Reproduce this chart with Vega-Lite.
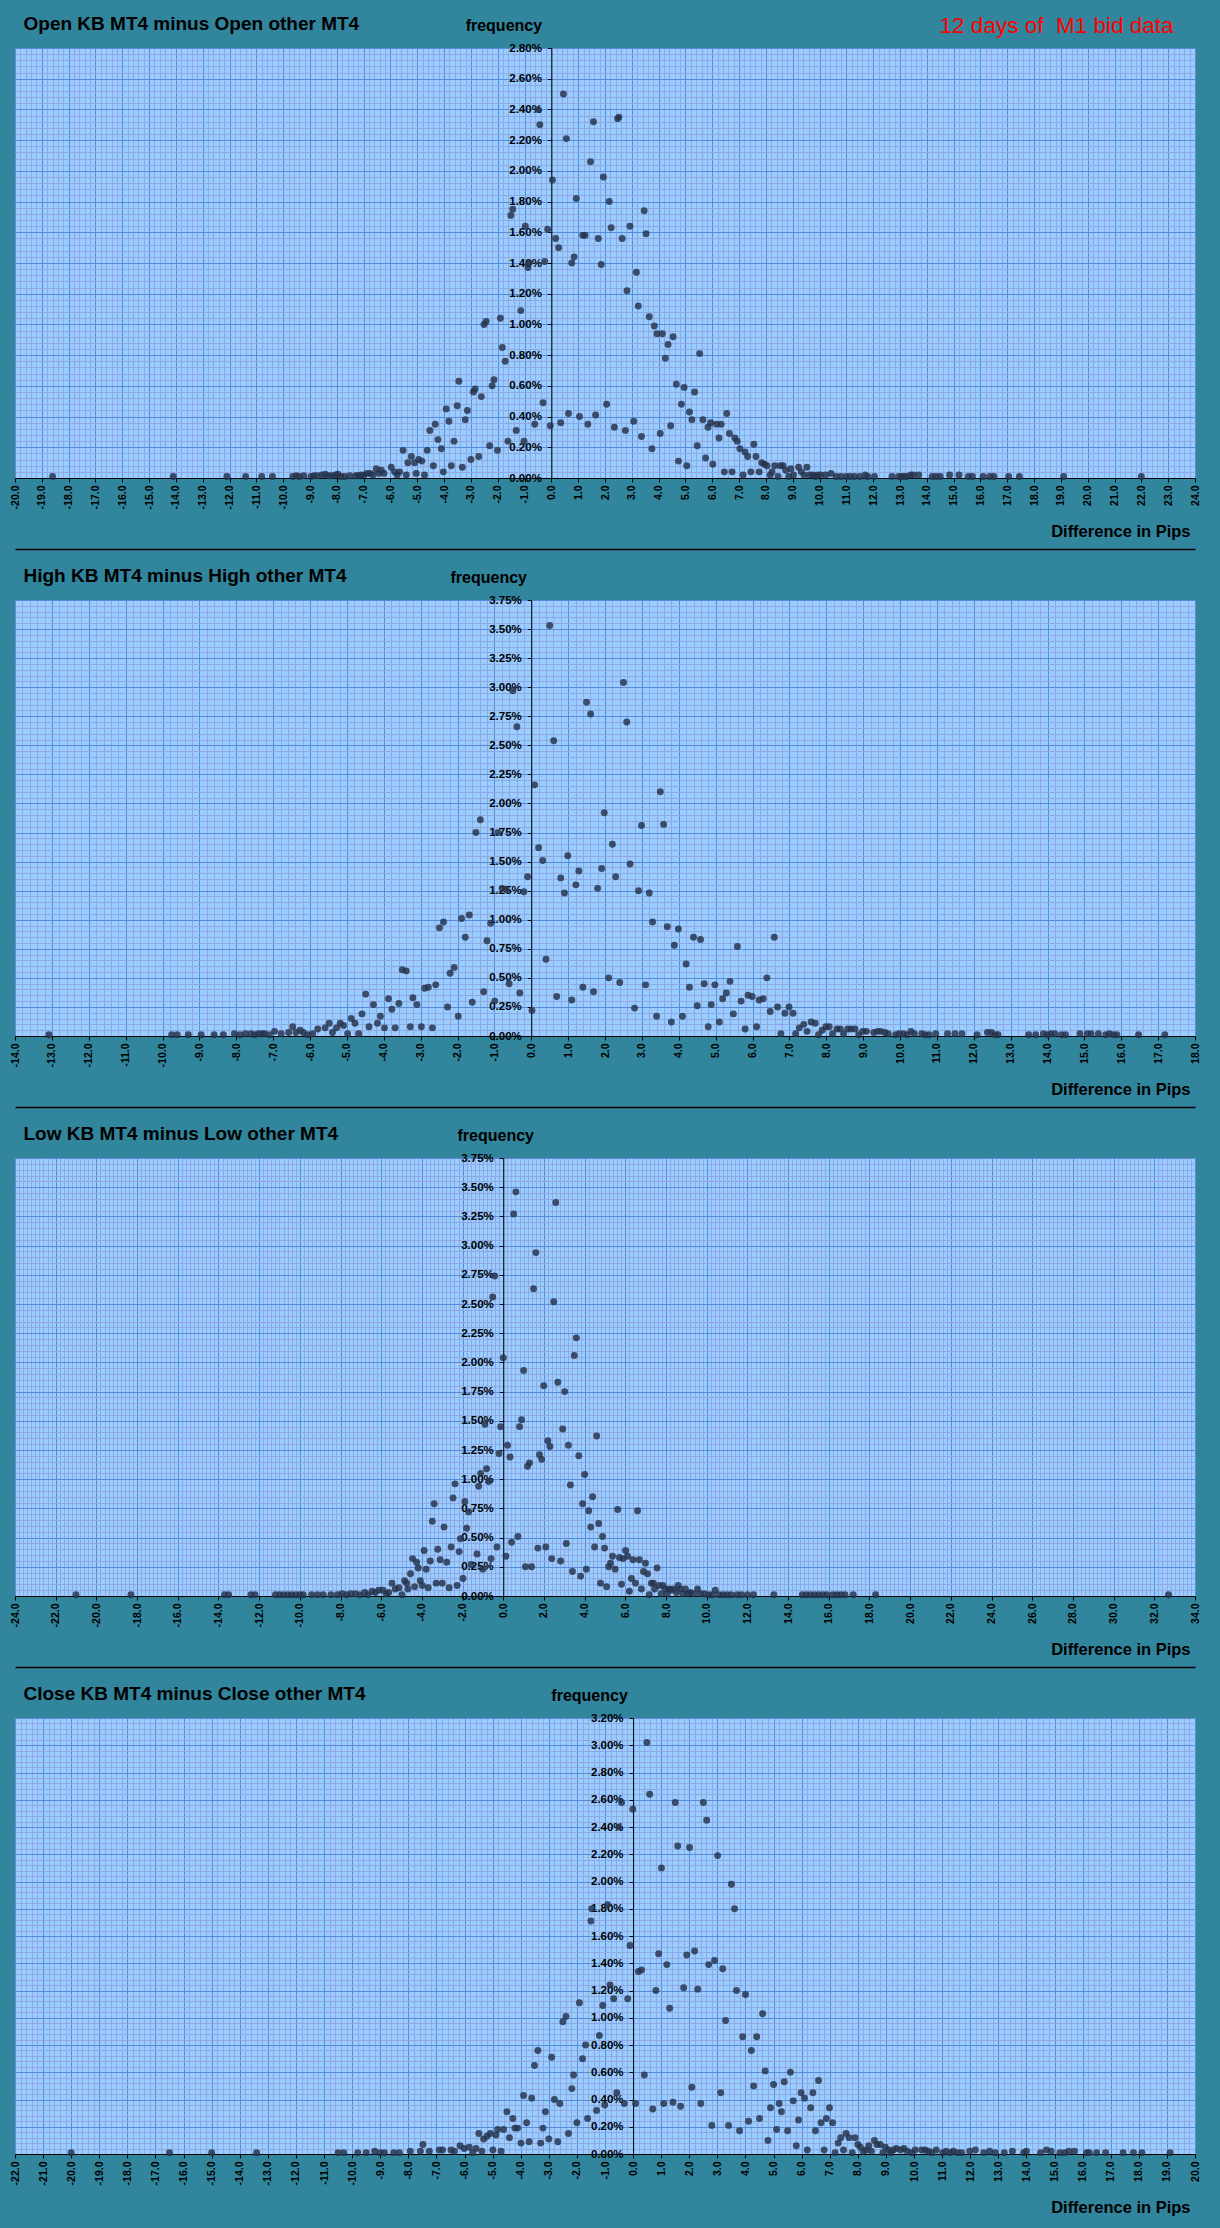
{
  "$schema": "https://vega.github.io/schema/vega-lite/v6.json",
  "background": "#31859C",
  "padding": {"left": 9, "top": 13, "right": 22, "bottom": 13},
  "autosize": {"type": "pad"},
  "config": {
    "view": {"fill": "#99CCFF", "stroke": "#7F8FA8", "strokeWidth": 1},
    "font": "Liberation Sans",
    "axis": {"labelFont": "Liberation Sans", "titleFont": "Liberation Sans", "labelColor": "#000000", "titleColor": "#000000"},
    "circle": {"size": 48, "color": "#24324A", "opacity": 0.82}
  },
  "datasets": {
    "open": [
      {"d":-18.6,"f":0.01},{"d":-14.1,"f":0.01},{"d":-12.1,"f":0.01},{"d":-11.4,"f":0.01},{"d":-10.8,"f":0.01},{"d":-10.4,"f":0.01},
      {"d":-9.64,"f":0.01},{"d":-9.51,"f":0.015},{"d":-9.4,"f":0.01},{"d":-9.23,"f":0.015},{"d":-8.96,"f":0.01},{"d":-8.85,"f":0.015},{"d":-8.73,"f":0.015},{"d":-8.55,"f":0.02},{"d":-8.43,"f":0.025},{"d":-8.3,"f":0.015},{"d":-8.18,"f":0.015},{"d":-8.05,"f":0.02},{"d":-7.96,"f":0.025},{"d":-7.85,"f":0.01},{"d":-7.71,"f":0.01},{"d":-7.52,"f":0.015},{"d":-7.3,"f":0.015},{"d":-7.21,"f":0.015},{"d":-7.1,"f":0.02},{"d":-6.99,"f":0.02},{"d":-6.87,"f":0.03},{"d":-6.75,"f":0.03},{"d":-6.65,"f":0.02},{"d":-6.53,"f":0.06},{"d":-6.43,"f":0.03},{"d":-6.34,"f":0.05},{"d":-6.24,"f":0.03},{"d":-5.97,"f":0.07},{"d":-5.85,"f":0.04},{"d":-5.75,"f":0.02},{"d":-5.66,"f":0.04},{"d":-5.53,"f":0.18},{"d":-5.41,"f":0.02},{"d":-5.35,"f":0.1},{"d":-5.22,"f":0.14},{"d":-5.1,"f":0.1},{"d":-5.04,"f":0.03},{"d":-4.95,"f":0.12},{"d":-4.83,"f":0.11},{"d":-4.73,"f":0.02},{"d":-4.63,"f":0.18},{"d":-4.53,"f":0.31},{"d":-4.4,"f":0.08},{"d":-4.33,"f":0.35},{"d":-4.23,"f":0.25},{"d":-4.1,"f":0.19},{"d":-4.03,"f":0.04},{"d":-3.92,"f":0.45},{"d":-3.82,"f":0.37},{"d":-3.73,"f":0.08},{"d":-3.63,"f":0.24},{"d":-3.51,"f":0.47},{"d":-3.45,"f":0.63},{"d":-3.32,"f":0.07},{"d":-3.21,"f":0.38},{"d":-3.13,"f":0.44},{"d":-3.0,"f":0.12},{"d":-2.91,"f":0.56},{"d":-2.84,"f":0.58},{"d":-2.71,"f":0.14},{"d":-2.61,"f":0.53},{"d":-2.51,"f":1.0},{"d":-2.43,"f":1.02},{"d":-2.3,"f":0.21},{"d":-2.21,"f":0.6},{"d":-2.14,"f":0.64},{"d":-2.01,"f":0.18},{"d":-1.9,"f":1.04},{"d":-1.83,"f":0.85},{"d":-1.72,"f":0.76},{"d":-1.62,"f":0.24},{"d":-1.51,"f":1.71},{"d":-1.44,"f":1.75},{"d":-1.31,"f":0.31},{"d":-1.14,"f":1.09},{"d":-1.02,"f":0.24},{"d":-0.97,"f":1.64},{"d":-0.87,"f":1.37},{"d":-0.83,"f":1.4},{"d":-0.62,"f":0.35},{"d":-0.5,"f":2.4},{"d":-0.43,"f":2.3},{"d":-0.31,"f":0.49},{"d":-0.25,"f":1.41},{"d":-0.14,"f":1.62},{"d":-0.04,"f":0.34},{"d":0.04,"f":1.94},{"d":0.16,"f":1.56},{"d":0.27,"f":1.5},{"d":0.35,"f":0.36},{"d":0.45,"f":2.5},{"d":0.56,"f":2.21},{"d":0.64,"f":0.42},{"d":0.76,"f":1.4},{"d":0.85,"f":1.44},{"d":0.93,"f":1.82},{"d":1.05,"f":0.4},{"d":1.17,"f":1.58},{"d":1.26,"f":1.58},{"d":1.36,"f":0.35},{"d":1.46,"f":2.06},{"d":1.57,"f":2.32},{"d":1.65,"f":0.41},{"d":1.75,"f":1.56},{"d":1.86,"f":1.39},{"d":1.94,"f":1.96},{"d":2.06,"f":0.48},{"d":2.16,"f":1.8},{"d":2.23,"f":1.63},{"d":2.35,"f":0.33},{"d":2.47,"f":2.34},{"d":2.52,"f":2.35},{"d":2.64,"f":1.56},{"d":2.76,"f":0.31},{"d":2.82,"f":1.22},{"d":2.93,"f":1.64},{"d":3.07,"f":0.37},{"d":3.17,"f":1.34},{"d":3.24,"f":1.12},{"d":3.36,"f":0.27},{"d":3.46,"f":1.74},{"d":3.53,"f":1.59},{"d":3.65,"f":1.05},{"d":3.75,"f":0.19},{"d":3.84,"f":0.99},{"d":3.94,"f":0.94},{"d":4.06,"f":0.29},{"d":4.14,"f":0.94},{"d":4.25,"f":0.78},{"d":4.35,"f":0.87},{"d":4.45,"f":0.34},{"d":4.54,"f":0.92},{"d":4.66,"f":0.61},{"d":4.74,"f":0.11},{"d":4.85,"f":0.48},{"d":4.95,"f":0.59},{"d":5.05,"f":0.08},{"d":5.15,"f":0.43},{"d":5.24,"f":0.38},{"d":5.34,"f":0.56},{"d":5.44,"f":0.21},{"d":5.53,"f":0.81},{"d":5.65,"f":0.38},{"d":5.75,"f":0.13},{"d":5.84,"f":0.33},{"d":5.94,"f":0.36},{"d":6.02,"f":0.09},{"d":6.16,"f":0.35},{"d":6.25,"f":0.26},{"d":6.33,"f":0.35},{"d":6.45,"f":0.04},{"d":6.54,"f":0.42},{"d":6.64,"f":0.29},{"d":6.74,"f":0.04},{"d":6.84,"f":0.26},{"d":6.93,"f":0.24},{"d":7.03,"f":0.19},{"d":7.15,"f":0.02},{"d":7.22,"f":0.17},{"d":7.32,"f":0.14},{"d":7.44,"f":0.04},{"d":7.55,"f":0.22},{"d":7.63,"f":0.14},{"d":7.75,"f":0.04},{"d":7.84,"f":0.1},{"d":7.94,"f":0.09},{"d":8.04,"f":0.08},{"d":8.16,"f":0.02},{"d":8.23,"f":0.04},{"d":8.33,"f":0.08},{"d":8.45,"f":0.01},{"d":8.54,"f":0.08},{"d":8.64,"f":0.08},{"d":8.74,"f":0.05},{"d":8.85,"f":0.01},{"d":8.93,"f":0.06},{"d":9.03,"f":0.02},{"d":9.22,"f":0.07},{"d":9.32,"f":0.04},{"d":9.42,"f":0.02},{"d":9.53,"f":0.07},{"d":9.63,"f":0.02},{"d":9.75,"f":0.02},{"d":9.85,"f":0.01},{"d":9.94,"f":0.02},{"d":10.04,"f":0.02},{"d":10.23,"f":0.02},{"d":10.43,"f":0.03},{"d":10.62,"f":0.01},{"d":10.8,"f":0.01},{"d":11.0,"f":0.01},{"d":11.15,"f":0.01},{"d":11.3,"f":0.01},{"d":11.5,"f":0.01},{"d":11.7,"f":0.02},{"d":11.8,"f":0.01},{"d":12.05,"f":0.01},{"d":12.7,"f":0.01},{"d":12.95,"f":0.01},{"d":13.05,"f":0.01},{"d":13.15,"f":0.01},{"d":13.25,"f":0.01},{"d":13.4,"f":0.02},{"d":13.5,"f":0.02},{"d":13.7,"f":0.02},{"d":14.2,"f":0.01},{"d":14.35,"f":0.01},{"d":14.5,"f":0.01},{"d":14.85,"f":0.02},{"d":15.2,"f":0.02},{"d":15.55,"f":0.01},{"d":15.7,"f":0.01},{"d":16.1,"f":0.01},{"d":16.35,"f":0.01},{"d":16.5,"f":0.01},{"d":17.05,"f":0.01},{"d":17.45,"f":0.01},{"d":19.1,"f":0.01},{"d":22.0,"f":0.01}
    ],
    "high": [
      {"d":-13.08,"f":0.01},{"d":-9.75,"f":0.01},{"d":-9.6,"f":0.01},{"d":-9.3,"f":0.01},{"d":-8.95,"f":0.01},{"d":-8.6,"f":0.01},{"d":-8.35,"f":0.01},{"d":-8.05,"f":0.02},{"d":-7.9,"f":0.01},{"d":-7.75,"f":0.02},{"d":-7.6,"f":0.02},{"d":-7.5,"f":0.01},{"d":-7.4,"f":0.02},{"d":-7.3,"f":0.02},
      {"d":-7.23,"f":0.02},{"d":-7.1,"f":0.01},{"d":-6.96,"f":0.04},{"d":-6.78,"f":0.02},{"d":-6.58,"f":0.03},{"d":-6.47,"f":0.08},{"d":-6.38,"f":0.03},{"d":-6.27,"f":0.05},{"d":-6.18,"f":0.03},{"d":-6.06,"f":0.01},{"d":-5.93,"f":0.02},{"d":-5.79,"f":0.06},{"d":-5.59,"f":0.07},{"d":-5.48,"f":0.11},{"d":-5.39,"f":0.03},{"d":-5.28,"f":0.07},{"d":-5.18,"f":0.11},{"d":-5.09,"f":0.09},{"d":-4.98,"f":0.02},{"d":-4.88,"f":0.15},{"d":-4.78,"f":0.11},{"d":-4.68,"f":0.02},{"d":-4.59,"f":0.19},{"d":-4.49,"f":0.36},{"d":-4.4,"f":0.08},{"d":-4.28,"f":0.27},{"d":-4.17,"f":0.11},{"d":-4.09,"f":0.17},{"d":-3.98,"f":0.07},{"d":-3.87,"f":0.32},{"d":-3.78,"f":0.23},{"d":-3.69,"f":0.07},{"d":-3.59,"f":0.28},{"d":-3.5,"f":0.57},{"d":-3.39,"f":0.56},{"d":-3.28,"f":0.08},{"d":-3.21,"f":0.33},{"d":-3.1,"f":0.27},{"d":-2.98,"f":0.08},{"d":-2.89,"f":0.41},{"d":-2.79,"f":0.42},{"d":-2.68,"f":0.07},{"d":-2.59,"f":0.44},{"d":-2.49,"f":0.93},{"d":-2.38,"f":0.98},{"d":-2.27,"f":0.25},{"d":-2.2,"f":0.54},{"d":-2.09,"f":0.59},{"d":-1.98,"f":0.17},{"d":-1.89,"f":1.01},{"d":-1.79,"f":0.85},{"d":-1.68,"f":1.04},{"d":-1.6,"f":0.29},{"d":-1.5,"f":1.75},{"d":-1.38,"f":1.86},{"d":-1.29,"f":0.38},{"d":-1.2,"f":0.82},{"d":-1.1,"f":0.97},{"d":-0.99,"f":0.3},{"d":-0.9,"f":1.75},{"d":-0.79,"f":1.27},{"d":-0.68,"f":1.26},{"d":-0.6,"f":0.45},{"d":-0.5,"f":2.97},{"d":-0.39,"f":2.66},{"d":-0.31,"f":0.37},{"d":-0.2,"f":1.24},{"d":-0.1,"f":1.37},{"d":0.02,"f":0.22},{"d":0.09,"f":2.16},{"d":0.2,"f":1.62},{"d":0.31,"f":1.51},{"d":0.4,"f":0.66},{"d":0.5,"f":3.53},{"d":0.61,"f":2.54},{"d":0.69,"f":0.34},{"d":0.8,"f":1.36},{"d":0.9,"f":1.23},{"d":0.99,"f":1.55},{"d":1.1,"f":0.31},{"d":1.21,"f":1.3},{"d":1.29,"f":1.42},{"d":1.4,"f":0.42},{"d":1.5,"f":2.87},{"d":1.61,"f":2.77},{"d":1.69,"f":0.38},{"d":1.8,"f":1.27},{"d":1.91,"f":1.44},{"d":1.98,"f":1.92},{"d":2.1,"f":0.5},{"d":2.2,"f":1.65},{"d":2.29,"f":1.37},{"d":2.4,"f":0.46},{"d":2.5,"f":3.04},{"d":2.59,"f":2.7},{"d":2.68,"f":1.48},{"d":2.8,"f":0.24},{"d":2.91,"f":1.25},{"d":2.99,"f":1.81},{"d":3.1,"f":0.44},{"d":3.2,"f":1.23},{"d":3.29,"f":0.98},{"d":3.4,"f":0.17},{"d":3.5,"f":2.1},{"d":3.59,"f":1.82},{"d":3.69,"f":0.94},{"d":3.8,"f":0.12},{"d":3.88,"f":0.78},{"d":3.99,"f":0.92},{"d":4.1,"f":0.17},{"d":4.2,"f":0.62},{"d":4.29,"f":0.42},{"d":4.4,"f":0.85},{"d":4.5,"f":0.26},{"d":4.59,"f":0.83},{"d":4.69,"f":0.45},{"d":4.8,"f":0.08},{"d":4.88,"f":0.27},{"d":4.98,"f":0.44},{"d":5.1,"f":0.12},{"d":5.19,"f":0.32},{"d":5.29,"f":0.37},{"d":5.39,"f":0.47},{"d":5.48,"f":0.19},{"d":5.59,"f":0.77},{"d":5.69,"f":0.3},{"d":5.8,"f":0.06},{"d":5.88,"f":0.35},{"d":5.99,"f":0.34},{"d":6.11,"f":0.08},{"d":6.18,"f":0.31},{"d":6.29,"f":0.32},{"d":6.39,"f":0.5},{"d":6.48,"f":0.21},{"d":6.59,"f":0.85},{"d":6.68,"f":0.25},{"d":6.77,"f":0.02},
      {"d":6.88,"f":0.195},{"d":6.99,"f":0.25},{"d":7.1,"f":0.195},{"d":7.17,"f":0.02},{"d":7.27,"f":0.07},{"d":7.39,"f":0.1},{"d":7.48,"f":0.04},{"d":7.59,"f":0.12},{"d":7.7,"f":0.11},{"d":7.79,"f":0.01},{"d":7.89,"f":0.05},{"d":7.99,"f":0.08},{"d":8.08,"f":0.08},{"d":8.17,"f":0.02},{"d":8.29,"f":0.06},{"d":8.38,"f":0.06},{"d":8.47,"f":0.02},{"d":8.58,"f":0.06},{"d":8.67,"f":0.06},{"d":8.78,"f":0.06},{"d":8.88,"f":0.01},{"d":8.99,"f":0.04},{"d":9.09,"f":0.04},{"d":9.29,"f":0.03},{"d":9.39,"f":0.04},{"d":9.48,"f":0.04},{"d":9.59,"f":0.03},{"d":9.68,"f":0.02},{"d":9.88,"f":0.01},{"d":9.98,"f":0.02},{"d":10.09,"f":0.02},{"d":10.19,"f":0.01},{"d":10.3,"f":0.04},{"d":10.39,"f":0.02},{"d":10.59,"f":0.02},{"d":10.68,"f":0.01},{"d":10.79,"f":0.01},{"d":10.97,"f":0.02},{"d":11.29,"f":0.02},{"d":11.49,"f":0.02},{"d":11.68,"f":0.02},{"d":12.09,"f":0.01},{"d":12.37,"f":0.03},{"d":12.48,"f":0.03},{"d":12.58,"f":0.01},{"d":12.66,"f":0.01},{"d":13.49,"f":0.01},{"d":13.68,"f":0.01},{"d":13.89,"f":0.02},{"d":14.0,"f":0.01},{"d":14.09,"f":0.02},{"d":14.2,"f":0.02},{"d":14.38,"f":0.01},{"d":14.49,"f":0.01},{"d":14.88,"f":0.02},{"d":15.08,"f":0.02},{"d":15.18,"f":0.02},{"d":15.38,"f":0.02},{"d":15.58,"f":0.01},{"d":15.68,"f":0.02},{"d":15.79,"f":0.01},{"d":15.88,"f":0.01},{"d":16.47,"f":0.01},{"d":17.18,"f":0.01}
    ],
    "low": [
      {"d":-21.0,"f":0.01},{"d":-18.3,"f":0.01},{"d":-13.7,"f":0.01},{"d":-13.5,"f":0.01},{"d":-12.4,"f":0.01},{"d":-12.2,"f":0.01},{"d":-11.2,"f":0.01},{"d":-11.0,"f":0.01},{"d":-10.8,"f":0.01},{"d":-10.6,"f":0.01},{"d":-10.4,"f":0.01},{"d":-10.2,"f":0.01},{"d":-10.0,"f":0.01},
      {"d":-9.83,"f":0.01},{"d":-9.42,"f":0.01},{"d":-9.13,"f":0.01},{"d":-8.85,"f":0.01},{"d":-8.47,"f":0.01},{"d":-8.15,"f":0.01},{"d":-7.92,"f":0.02},{"d":-7.7,"f":0.01},{"d":-7.49,"f":0.02},{"d":-7.27,"f":0.02},{"d":-7.05,"f":0.01},{"d":-6.81,"f":0.03},{"d":-6.64,"f":0.01},{"d":-6.45,"f":0.04},{"d":-6.29,"f":0.03},{"d":-6.12,"f":0.05},{"d":-5.91,"f":0.05},{"d":-5.75,"f":0.02},{"d":-5.63,"f":0.03},{"d":-5.47,"f":0.11},{"d":-5.31,"f":0.06},{"d":-5.13,"f":0.07},{"d":-4.98,"f":0.01},{"d":-4.85,"f":0.13},{"d":-4.75,"f":0.11},{"d":-4.69,"f":0.06},{"d":-4.56,"f":0.19},{"d":-4.46,"f":0.32},{"d":-4.36,"f":0.08},{"d":-4.26,"f":0.29},{"d":-4.18,"f":0.24},{"d":-4.08,"f":0.13},{"d":-3.98,"f":0.09},{"d":-3.89,"f":0.39},{"d":-3.79,"f":0.23},{"d":-3.69,"f":0.07},{"d":-3.59,"f":0.3},{"d":-3.49,"f":0.64},{"d":-3.4,"f":0.79},{"d":-3.3,"f":0.11},{"d":-3.22,"f":0.4},{"d":-3.1,"f":0.31},{"d":-3.0,"f":0.11},{"d":-2.91,"f":0.59},{"d":-2.78,"f":0.29},{"d":-2.66,"f":0.07},{"d":-2.56,"f":0.42},{"d":-2.47,"f":0.84},{"d":-2.37,"f":0.96},{"d":-2.27,"f":0.09},{"d":-2.17,"f":0.38},{"d":-2.11,"f":0.49},{"d":-1.98,"f":0.15},{"d":-1.89,"f":0.81},{"d":-1.8,"f":0.58},{"d":-1.7,"f":0.72},{"d":-1.58,"f":0.27},{"d":-1.29,"f":0.36},{"d":-1.21,"f":0.94},{"d":-1.11,"f":1.05},{"d":-1.01,"f":0.23},{"d":-0.9,"f":1.47},{"d":-0.82,"f":1.09},{"d":-0.72,"f":0.98},{"d":-0.6,"f":0.32},{"d":-0.52,"f":2.56},{"d":-0.42,"f":2.74},{"d":-0.31,"f":0.42},{"d":-0.21,"f":1.22},{"d":-0.13,"f":1.45},{"d":0.0,"f":2.04},{"d":0.13,"f":0.34},{"d":0.21,"f":1.29},{"d":0.33,"f":1.19},{"d":0.41,"f":0.46},{"d":0.51,"f":3.27},{"d":0.62,"f":3.46},{"d":0.72,"f":0.51},{"d":0.8,"f":1.45},{"d":0.9,"f":1.51},{"d":1.0,"f":1.93},{"d":1.09,"f":0.25},{"d":1.19,"f":1.11},{"d":1.29,"f":1.14},{"d":1.39,"f":0.25},{"d":1.49,"f":2.63},{"d":1.6,"f":2.94},{"d":1.7,"f":0.41},{"d":1.78,"f":1.21},{"d":1.89,"f":1.17},{"d":1.99,"f":1.8},{"d":2.09,"f":0.42},{"d":2.19,"f":1.33},{"d":2.29,"f":1.28},{"d":2.38,"f":0.32},{"d":2.48,"f":2.52},{"d":2.58,"f":3.37},{"d":2.68,"f":1.83},{"d":2.82,"f":0.3},{"d":2.92,"f":1.43},{"d":3.02,"f":1.75},{"d":3.1,"f":0.45},{"d":3.2,"f":1.29},{"d":3.3,"f":0.95},{"d":3.4,"f":0.21},{"d":3.49,"f":2.06},{"d":3.59,"f":2.21},{"d":3.71,"f":1.2},{"d":3.8,"f":0.17},{"d":3.9,"f":0.79},{"d":4.0,"f":1.04},{"d":4.08,"f":0.23},{"d":4.2,"f":0.73},{"d":4.3,"f":0.59},{"d":4.39,"f":0.85},{"d":4.49,"f":0.42},{"d":4.59,"f":1.37},{"d":4.69,"f":0.62},{"d":4.78,"f":0.11},{"d":4.88,"f":0.51},{"d":4.98,"f":0.41},{"d":5.08,"f":0.08},{"d":5.18,"f":0.25},{"d":5.27,"f":0.28},{"d":5.37,"f":0.34},{"d":5.5,"f":0.23},{"d":5.62,"f":0.74},{"d":5.71,"f":0.33},{"d":5.81,"f":0.1},{"d":5.89,"f":0.32},{"d":6.01,"f":0.39},{"d":6.11,"f":0.34},{"d":6.2,"f":0.04},{"d":6.3,"f":0.15},{"d":6.38,"f":0.31},{"d":6.5,"f":0.11},{"d":6.6,"f":0.73},{"d":6.69,"f":0.31},{"d":6.79,"f":0.06},{"d":6.89,"f":0.21},{"d":6.99,"f":0.28},{"d":7.09,"f":0.19},{"d":7.18,"f":0.01},{"d":7.28,"f":0.11},{"d":7.38,"f":0.11},{"d":7.44,"f":0.06},{"d":7.56,"f":0.24},{"d":7.66,"f":0.09},{"d":7.76,"f":0.02},{"d":7.85,"f":0.09},{"d":7.95,"f":0.06},{"d":8.05,"f":0.02},{"d":8.15,"f":0.06},{"d":8.24,"f":0.05},{"d":8.38,"f":0.06},{"d":8.51,"f":0.03},{"d":8.6,"f":0.09},{"d":8.7,"f":0.06},{"d":8.82,"f":0.02},{"d":8.95,"f":0.06},{"d":9.06,"f":0.02},{"d":9.19,"f":0.03},{"d":9.36,"f":0.02},{"d":9.55,"f":0.06},{"d":9.68,"f":0.02},{"d":9.88,"f":0.02},{"d":10.09,"f":0.01},{"d":10.27,"f":0.01},{"d":10.42,"f":0.05},
      {"d":10.6,"f":0.01},{"d":10.8,"f":0.01},{"d":11.0,"f":0.01},{"d":11.2,"f":0.01},{"d":11.5,"f":0.01},{"d":11.7,"f":0.01},{"d":12.0,"f":0.01},{"d":12.3,"f":0.01},{"d":13.3,"f":0.01},{"d":14.7,"f":0.01},{"d":14.9,"f":0.01},{"d":15.1,"f":0.01},{"d":15.3,"f":0.01},{"d":15.5,"f":0.01},{"d":15.7,"f":0.01},{"d":15.9,"f":0.01},{"d":16.2,"f":0.01},{"d":16.4,"f":0.01},{"d":16.6,"f":0.01},{"d":16.8,"f":0.01},{"d":17.2,"f":0.01},{"d":18.3,"f":0.01},{"d":32.7,"f":0.01}
    ],
    "close": [
      {"d":-20.0,"f":0.01},{"d":-16.5,"f":0.01},{"d":-15.0,"f":0.01},{"d":-13.4,"f":0.01},{"d":-10.5,"f":0.01},{"d":-10.3,"f":0.01},{"d":-9.8,"f":0.01},{"d":-9.5,"f":0.01},{"d":-9.2,"f":0.02},{"d":-9.0,"f":0.01},
      {"d":-8.85,"f":0.01},{"d":-8.52,"f":0.01},{"d":-8.32,"f":0.01},{"d":-7.93,"f":0.02},{"d":-7.57,"f":0.02},{"d":-7.48,"f":0.07},{"d":-7.25,"f":0.02},{"d":-6.9,"f":0.03},{"d":-6.78,"f":0.03},{"d":-6.48,"f":0.03},{"d":-6.36,"f":0.02},{"d":-6.16,"f":0.06},{"d":-6.01,"f":0.04},{"d":-5.83,"f":0.05},{"d":-5.71,"f":0.01},{"d":-5.59,"f":0.04},{"d":-5.49,"f":0.15},{"d":-5.38,"f":0.02},{"d":-5.32,"f":0.11},{"d":-5.2,"f":0.13},{"d":-5.08,"f":0.15},{"d":-4.99,"f":0.03},{"d":-4.88,"f":0.14},{"d":-4.82,"f":0.18},{"d":-4.7,"f":0.02},{"d":-4.61,"f":0.18},{"d":-4.49,"f":0.31},{"d":-4.4,"f":0.12},{"d":-4.28,"f":0.26},{"d":-4.21,"f":0.19},{"d":-4.11,"f":0.19},{"d":-3.99,"f":0.08},{"d":-3.9,"f":0.43},{"d":-3.79,"f":0.23},{"d":-3.7,"f":0.09},{"d":-3.61,"f":0.41},{"d":-3.51,"f":0.65},{"d":-3.39,"f":0.76},{"d":-3.29,"f":0.08},{"d":-3.21,"f":0.19},{"d":-3.12,"f":0.31},{"d":-3.0,"f":0.11},{"d":-2.9,"f":0.71},{"d":-2.8,"f":0.4},{"d":-2.68,"f":0.09},{"d":-2.61,"f":0.37},{"d":-2.5,"f":0.97},{"d":-2.39,"f":1.01},{"d":-2.3,"f":0.15},{"d":-2.18,"f":0.48},{"d":-2.12,"f":0.58},{"d":-2.0,"f":0.23},{"d":-1.91,"f":1.11},{"d":-1.8,"f":0.7},{"d":-1.69,"f":0.8},{"d":-1.62,"f":0.26},{"d":-1.5,"f":1.71},{"d":-1.47,"f":1.8},{"d":-1.3,"f":0.32},{"d":-1.2,"f":0.87},{"d":-1.08,"f":1.09},{"d":-1.01,"f":0.36},{"d":-0.91,"f":1.83},{"d":-0.82,"f":1.24},{"d":-0.69,"f":1.14},{"d":-0.58,"f":0.45},{"d":-0.51,"f":2.4},{"d":-0.41,"f":2.58},{"d":-0.31,"f":0.37},{"d":-0.19,"f":1.14},{"d":-0.11,"f":1.53},{"d":-0.01,"f":2.53},{"d":0.09,"f":0.37},{"d":0.19,"f":1.34},{"d":0.3,"f":1.35},{"d":0.4,"f":0.58},{"d":0.49,"f":3.02},{"d":0.59,"f":2.64},{"d":0.7,"f":0.33},{"d":0.81,"f":1.2},{"d":0.91,"f":1.47},{"d":1.01,"f":2.1},{"d":1.09,"f":0.37},{"d":1.2,"f":1.39},{"d":1.3,"f":1.07},{"d":1.42,"f":0.38},{"d":1.5,"f":2.58},{"d":1.59,"f":2.26},{"d":1.69,"f":0.35},{"d":1.8,"f":1.22},{"d":1.91,"f":1.46},{"d":2.01,"f":2.25},{"d":2.09,"f":0.49},{"d":2.19,"f":1.49},{"d":2.3,"f":1.21},{"d":2.41,"f":0.37},{"d":2.5,"f":2.58},{"d":2.62,"f":2.45},{"d":2.69,"f":1.39},{"d":2.8,"f":0.21},{"d":2.9,"f":1.42},{"d":3.01,"f":2.19},{"d":3.12,"f":0.45},{"d":3.19,"f":1.36},{"d":3.29,"f":0.98},{"d":3.4,"f":0.21},{"d":3.5,"f":1.98},{"d":3.61,"f":1.8},{"d":3.68,"f":1.2},{"d":3.79,"f":0.17},{"d":3.9,"f":0.86},{"d":4.0,"f":1.17},{"d":4.11,"f":0.24},{"d":4.21,"f":0.76},{"d":4.29,"f":0.5},{"d":4.4,"f":0.86},{"d":4.5,"f":0.26},{"d":4.61,"f":1.03},{"d":4.7,"f":0.61},{"d":4.8,"f":0.1},{"d":4.89,"f":0.34},{"d":5.0,"f":0.51},{"d":5.11,"f":0.18},{"d":5.2,"f":0.37},{"d":5.28,"f":0.31},{"d":5.38,"f":0.53},{"d":5.5,"f":0.17},{"d":5.6,"f":0.6},{"d":5.7,"f":0.39},{"d":5.81,"f":0.06},{"d":5.89,"f":0.25},{"d":5.98,"f":0.45},{"d":6.1,"f":0.41},{"d":6.2,"f":0.03},{"d":6.32,"f":0.34},{"d":6.4,"f":0.45},{"d":6.49,"f":0.17},{"d":6.6,"f":0.54},{"d":6.69,"f":0.23},{"d":6.8,"f":0.03},{"d":6.88,"f":0.26},{"d":6.99,"f":0.34},{"d":7.1,"f":0.23},{"d":7.19,"f":0.01},{"d":7.3,"f":0.08},{"d":7.39,"f":0.12},{"d":7.49,"f":0.03},{"d":7.58,"f":0.15},{"d":7.69,"f":0.12},{"d":7.8,"f":0.01},{"d":7.9,"f":0.12},{"d":8.0,"f":0.07},{"d":8.09,"f":0.05},{"d":8.19,"f":0.02},{"d":8.29,"f":0.03},{"d":8.39,"f":0.06},{"d":8.48,"f":0.02},{"d":8.59,"f":0.1},{"d":8.68,"f":0.07},{"d":8.8,"f":0.07},{"d":8.89,"f":0.01},{"d":8.98,"f":0.05},{"d":9.09,"f":0.03},{"d":9.18,"f":0.01},{"d":9.26,"f":0.03},{"d":9.37,"f":0.04},
      {"d":9.52,"f":0.03},{"d":9.64,"f":0.04},{"d":9.76,"f":0.02},{"d":9.92,"f":0.01},{"d":10.04,"f":0.03},{"d":10.27,"f":0.03},{"d":10.39,"f":0.03},{"d":10.51,"f":0.02},{"d":10.63,"f":0.01},{"d":10.79,"f":0.03},{"d":11.02,"f":0.01},{"d":11.14,"f":0.02},{"d":11.29,"f":0.01},{"d":11.4,"f":0.02},{"d":11.55,"f":0.01},{"d":11.69,"f":0.01},{"d":11.98,"f":0.02},{"d":12.18,"f":0.03},{"d":12.48,"f":0.01},{"d":12.69,"f":0.02},{"d":12.89,"f":0.01},{"d":13.21,"f":0.01},{"d":13.5,"f":0.02},{"d":13.9,"f":0.01},{"d":14.0,"f":0.02},{"d":14.5,"f":0.01},{"d":14.71,"f":0.03},{"d":14.88,"f":0.02},{"d":15.19,"f":0.01},{"d":15.36,"f":0.01},{"d":15.51,"f":0.02},{"d":15.71,"f":0.02},{"d":16.14,"f":0.01},{"d":16.24,"f":0.01},{"d":16.5,"f":0.01},{"d":16.82,"f":0.01},{"d":17.44,"f":0.01},{"d":17.81,"f":0.01},{"d":18.11,"f":0.01},{"d":19.11,"f":0.01}
    ]
  },
  "spacing": 122,
  "bounds": "flush",
  "vconcat": [
    {
      "width": 1180, "height": 430,
      "data": {"name": "open"},
      "layer": [
        {"mark": {"type": "point", "opacity": 0},
         "encoding": {
           "x": {"field": "d", "type": "quantitative", "scale": {"domain": [-20, 24], "nice": false, "zero": false},
                 "axis": {"orient": "top", "grid": true, "gridColor": "#90A8E2", "gridWidth": 1, "tickCount": 220, "labels": false, "ticks": false, "domain": false, "title": null}},
           "y": {"field": "f", "type": "quantitative", "scale": {"domain": [0, 2.8], "nice": false},
                 "axis": {"orient": "left", "grid": true, "gridColor": "#90A8E2", "gridWidth": 1, "values": [0,0.04,0.08,0.12,0.16,0.2,0.24,0.28,0.32,0.36,0.4,0.44,0.48,0.52,0.56,0.6,0.64,0.68,0.72,0.76,0.8,0.84,0.88,0.92,0.96,1,1.04,1.08,1.12,1.16,1.2,1.24,1.28,1.32,1.36,1.4,1.44,1.48,1.52,1.56,1.6,1.64,1.68,1.72,1.76,1.8,1.84,1.88,1.92,1.96,2,2.04,2.08,2.12,2.16,2.2,2.24,2.28,2.32,2.36,2.4,2.44,2.48,2.52,2.56,2.6,2.64,2.68,2.72,2.76,2.8], "labels": false, "ticks": false, "domain": false, "title": null}}
         }},
        {"mark": {"type": "point", "opacity": 0},
         "encoding": {
           "x": {"field": "d", "type": "quantitative", "scale": {"domain": [-20, 24], "nice": false, "zero": false},
                 "axis": {"orient": "top", "grid": true, "gridColor": "#5B8BD8", "gridWidth": 1, "tickCount": 44, "labels": false, "ticks": false, "domain": false,
                          "title": "Open KB MT4 minus Open other MT4", "titleX": 8, "titleY": -19, "titleAngle": 0, "titleAlign": "left", "titleBaseline": "alphabetic", "titleFontSize": 19, "titleFontWeight": "bold"}},
           "y": {"field": "f", "type": "quantitative", "scale": {"domain": [0, 2.8], "nice": false},
                 "axis": {"orient": "right", "grid": true, "gridColor": "#5B8BD8", "gridWidth": 1, "tickCount": 14, "labels": false, "ticks": false, "domain": false,
                          "title": "12 days of\u00a0 M1 bid data", "titleX": -22, "titleY": -16, "titleAngle": 0, "titleAlign": "right", "titleBaseline": "alphabetic", "titleColor": "#FF0000", "titleFontSize": 22.5, "titleFontWeight": "normal"}}
         }},
        {"mark": {"type": "circle"},
         "encoding": {
           "x": {"field": "d", "type": "quantitative", "scale": {"domain": [-20, 24], "nice": false, "zero": false},
                 "axis": {"orient": "bottom", "grid": false, "tickCount": 44, "labelAngle": -90, "labelExpr": "replace(format(datum.value, '.1f'), '\u2212', '-')", "labelFontSize": 10.5, "labelFontWeight": "bold", "labelFlush": false, "labelOverlap": false, "labelPadding": 3, "domainColor": "#000000", "tickColor": "#000000", "tickSize": 4,
                          "title": "Difference in Pips", "titleX": 1175, "titleY": 58, "titleAngle": 0, "titleAlign": "right", "titleBaseline": "alphabetic", "titleFontSize": 16.5, "titleFontWeight": "bold"}},
           "y": {"field": "f", "type": "quantitative", "scale": {"domain": [0, 2.8], "nice": false},
                 "axis": {"orient": "left", "offset": -536.36, "grid": false, "tickCount": 14, "labelExpr": "format(datum.value, '.2f') + '%'", "labelFontSize": 11.5, "labelFontWeight": "bold", "labelOverlap": false, "labelPadding": 6, "domainColor": "#000000", "tickColor": "#000000", "tickSize": 4,
                          "title": "frequency", "titleX": -48, "titleY": -18, "titleAngle": 0, "titleAlign": "center", "titleBaseline": "alphabetic", "titleFontSize": 16, "titleFontWeight": "bold"}}
         }}
      ],
      "resolve": {"axis": {"x": "independent", "y": "independent"}}
    },
    {
      "width": 1180, "height": 436,
      "data": {"name": "high"},
      "layer": [
        {"mark": {"type": "point", "opacity": 0},
         "encoding": {
           "x": {"field": "d", "type": "quantitative", "scale": {"domain": [-14, 18], "nice": false, "zero": false},
                 "axis": {"orient": "top", "offset": 51, "grid": true, "gridColor": "#90A8E2", "gridWidth": 1, "tickCount": 160, "labels": false, "ticks": false, "domain": true, "domainColor": "#000000", "domainWidth": 1.5, "title": null}},
           "y": {"field": "f", "type": "quantitative", "scale": {"domain": [0, 3.75], "nice": false},
                 "axis": {"orient": "left", "grid": true, "gridColor": "#90A8E2", "gridWidth": 1, "tickCount": 75, "labels": false, "ticks": false, "domain": false, "title": null}}
         }},
        {"mark": {"type": "point", "opacity": 0},
         "encoding": {
           "x": {"field": "d", "type": "quantitative", "scale": {"domain": [-14, 18], "nice": false, "zero": false},
                 "axis": {"orient": "top", "grid": true, "gridColor": "#5B8BD8", "gridWidth": 1, "tickCount": 32, "labels": false, "ticks": false, "domain": false,
                          "title": "High KB MT4 minus High other MT4", "titleX": 8, "titleY": -19, "titleAngle": 0, "titleAlign": "left", "titleBaseline": "alphabetic", "titleFontSize": 19, "titleFontWeight": "bold"}},
           "y": {"field": "f", "type": "quantitative", "scale": {"domain": [0, 3.75], "nice": false},
                 "axis": {"orient": "right", "grid": true, "gridColor": "#5B8BD8", "gridWidth": 1, "values": [0,0.25,0.5,0.75,1,1.25,1.5,1.75,2,2.25,2.5,2.75,3,3.25,3.5,3.75], "labels": false, "ticks": false, "domain": false, "title": null}}
         }},
        {"mark": {"type": "circle"},
         "encoding": {
           "x": {"field": "d", "type": "quantitative", "scale": {"domain": [-14, 18], "nice": false, "zero": false},
                 "axis": {"orient": "bottom", "grid": false, "tickCount": 32, "labelAngle": -90, "labelExpr": "replace(format(datum.value, '.1f'), '\u2212', '-')", "labelFontSize": 10.5, "labelFontWeight": "bold", "labelFlush": false, "labelOverlap": false, "labelPadding": 3, "domainColor": "#000000", "tickColor": "#000000", "tickSize": 4,
                          "title": "Difference in Pips", "titleX": 1175, "titleY": 58, "titleAngle": 0, "titleAlign": "right", "titleBaseline": "alphabetic", "titleFontSize": 16.5, "titleFontWeight": "bold"}},
           "y": {"field": "f", "type": "quantitative", "scale": {"domain": [0, 3.75], "nice": false},
                 "axis": {"orient": "left", "offset": -516.25, "grid": false, "values": [0,0.25,0.5,0.75,1,1.25,1.5,1.75,2,2.25,2.5,2.75,3,3.25,3.5,3.75], "labelExpr": "format(datum.value, '.2f') + '%'", "labelFontSize": 11.5, "labelFontWeight": "bold", "labelOverlap": false, "labelPadding": 6, "domainColor": "#000000", "tickColor": "#000000", "tickSize": 4,
                          "title": "frequency", "titleX": -43, "titleY": -18, "titleAngle": 0, "titleAlign": "center", "titleBaseline": "alphabetic", "titleFontSize": 16, "titleFontWeight": "bold"}}
         }}
      ],
      "resolve": {"axis": {"x": "independent", "y": "independent"}}
    },
    {
      "width": 1180, "height": 438,
      "data": {"name": "low"},
      "layer": [
        {"mark": {"type": "point", "opacity": 0},
         "encoding": {
           "x": {"field": "d", "type": "quantitative", "scale": {"domain": [-24, 34], "nice": false, "zero": false},
                 "axis": {"orient": "top", "offset": 51, "grid": true, "gridColor": "#90A8E2", "gridWidth": 1, "tickCount": 290, "labels": false, "ticks": false, "domain": true, "domainColor": "#000000", "domainWidth": 1.5, "title": null}},
           "y": {"field": "f", "type": "quantitative", "scale": {"domain": [0, 3.75], "nice": false},
                 "axis": {"orient": "left", "grid": true, "gridColor": "#90A8E2", "gridWidth": 1, "tickCount": 75, "labels": false, "ticks": false, "domain": false, "title": null}}
         }},
        {"mark": {"type": "point", "opacity": 0},
         "encoding": {
           "x": {"field": "d", "type": "quantitative", "scale": {"domain": [-24, 34], "nice": false, "zero": false},
                 "axis": {"orient": "top", "grid": true, "gridColor": "#5B8BD8", "gridWidth": 1, "tickCount": 29, "labels": false, "ticks": false, "domain": false,
                          "title": "Low KB MT4 minus Low other MT4", "titleX": 8, "titleY": -19, "titleAngle": 0, "titleAlign": "left", "titleBaseline": "alphabetic", "titleFontSize": 19, "titleFontWeight": "bold"}},
           "y": {"field": "f", "type": "quantitative", "scale": {"domain": [0, 3.75], "nice": false},
                 "axis": {"orient": "right", "grid": true, "gridColor": "#5B8BD8", "gridWidth": 1, "values": [0,0.25,0.5,0.75,1,1.25,1.5,1.75,2,2.25,2.5,2.75,3,3.25,3.5,3.75], "labels": false, "ticks": false, "domain": false, "title": null}}
         }},
        {"mark": {"type": "circle"},
         "encoding": {
           "x": {"field": "d", "type": "quantitative", "scale": {"domain": [-24, 34], "nice": false, "zero": false},
                 "axis": {"orient": "bottom", "grid": false, "tickCount": 29, "labelAngle": -90, "labelExpr": "replace(format(datum.value, '.1f'), '\u2212', '-')", "labelFontSize": 10.5, "labelFontWeight": "bold", "labelFlush": false, "labelOverlap": false, "labelPadding": 3, "domainColor": "#000000", "tickColor": "#000000", "tickSize": 4,
                          "title": "Difference in Pips", "titleX": 1175, "titleY": 58, "titleAngle": 0, "titleAlign": "right", "titleBaseline": "alphabetic", "titleFontSize": 16.5, "titleFontWeight": "bold"}},
           "y": {"field": "f", "type": "quantitative", "scale": {"domain": [0, 3.75], "nice": false},
                 "axis": {"orient": "left", "offset": -488.28, "grid": false, "values": [0,0.25,0.5,0.75,1,1.25,1.5,1.75,2,2.25,2.5,2.75,3,3.25,3.5,3.75], "labelExpr": "format(datum.value, '.2f') + '%'", "labelFontSize": 11.5, "labelFontWeight": "bold", "labelOverlap": false, "labelPadding": 6, "domainColor": "#000000", "tickColor": "#000000", "tickSize": 4,
                          "title": "frequency", "titleX": -8, "titleY": -18, "titleAngle": 0, "titleAlign": "center", "titleBaseline": "alphabetic", "titleFontSize": 16, "titleFontWeight": "bold"}}
         }}
      ],
      "resolve": {"axis": {"x": "independent", "y": "independent"}}
    },
    {
      "width": 1180, "height": 436,
      "data": {"name": "close"},
      "layer": [
        {"mark": {"type": "point", "opacity": 0},
         "encoding": {
           "x": {"field": "d", "type": "quantitative", "scale": {"domain": [-22, 20], "nice": false, "zero": false},
                 "axis": {"orient": "top", "offset": 51, "grid": true, "gridColor": "#90A8E2", "gridWidth": 1, "tickCount": 210, "labels": false, "ticks": false, "domain": true, "domainColor": "#000000", "domainWidth": 1.5, "title": null}},
           "y": {"field": "f", "type": "quantitative", "scale": {"domain": [0, 3.2], "nice": false},
                 "axis": {"orient": "left", "grid": true, "gridColor": "#90A8E2", "gridWidth": 1, "values": [0,0.04,0.08,0.12,0.16,0.2,0.24,0.28,0.32,0.36,0.4,0.44,0.48,0.52,0.56,0.6,0.64,0.68,0.72,0.76,0.8,0.84,0.88,0.92,0.96,1,1.04,1.08,1.12,1.16,1.2,1.24,1.28,1.32,1.36,1.4,1.44,1.48,1.52,1.56,1.6,1.64,1.68,1.72,1.76,1.8,1.84,1.88,1.92,1.96,2,2.04,2.08,2.12,2.16,2.2,2.24,2.28,2.32,2.36,2.4,2.44,2.48,2.52,2.56,2.6,2.64,2.68,2.72,2.76,2.8,2.84,2.88,2.92,2.96,3,3.04,3.08,3.12,3.16,3.2], "labels": false, "ticks": false, "domain": false, "title": null}}
         }},
        {"mark": {"type": "point", "opacity": 0},
         "encoding": {
           "x": {"field": "d", "type": "quantitative", "scale": {"domain": [-22, 20], "nice": false, "zero": false},
                 "axis": {"orient": "top", "grid": true, "gridColor": "#5B8BD8", "gridWidth": 1, "tickCount": 42, "labels": false, "ticks": false, "domain": false,
                          "title": "Close KB MT4 minus Close other MT4", "titleX": 8, "titleY": -19, "titleAngle": 0, "titleAlign": "left", "titleBaseline": "alphabetic", "titleFontSize": 19, "titleFontWeight": "bold"}},
           "y": {"field": "f", "type": "quantitative", "scale": {"domain": [0, 3.2], "nice": false},
                 "axis": {"orient": "right", "grid": true, "gridColor": "#5B8BD8", "gridWidth": 1, "tickCount": 16, "labels": false, "ticks": false, "domain": false, "title": null}}
         }},
        {"mark": {"type": "circle"},
         "encoding": {
           "x": {"field": "d", "type": "quantitative", "scale": {"domain": [-22, 20], "nice": false, "zero": false},
                 "axis": {"orient": "bottom", "grid": false, "tickCount": 42, "labelAngle": -90, "labelExpr": "replace(format(datum.value, '.1f'), '\u2212', '-')", "labelFontSize": 10.5, "labelFontWeight": "bold", "labelFlush": false, "labelOverlap": false, "labelPadding": 3, "domainColor": "#000000", "tickColor": "#000000", "tickSize": 4,
                          "title": "Difference in Pips", "titleX": 1175, "titleY": 58, "titleAngle": 0, "titleAlign": "right", "titleBaseline": "alphabetic", "titleFontSize": 16.5, "titleFontWeight": "bold"}},
           "y": {"field": "f", "type": "quantitative", "scale": {"domain": [0, 3.2], "nice": false},
                 "axis": {"orient": "left", "offset": -618.1, "grid": false, "tickCount": 16, "labelExpr": "format(datum.value, '.2f') + '%'", "labelFontSize": 11.5, "labelFontWeight": "bold", "labelOverlap": false, "labelPadding": 6, "domainColor": "#000000", "tickColor": "#000000", "tickSize": 4,
                          "title": "frequency", "titleX": -44, "titleY": -18, "titleAngle": 0, "titleAlign": "center", "titleBaseline": "alphabetic", "titleFontSize": 16, "titleFontWeight": "bold"}}
         }}
      ],
      "resolve": {"axis": {"x": "independent", "y": "independent"}}
    }
  ]
}
